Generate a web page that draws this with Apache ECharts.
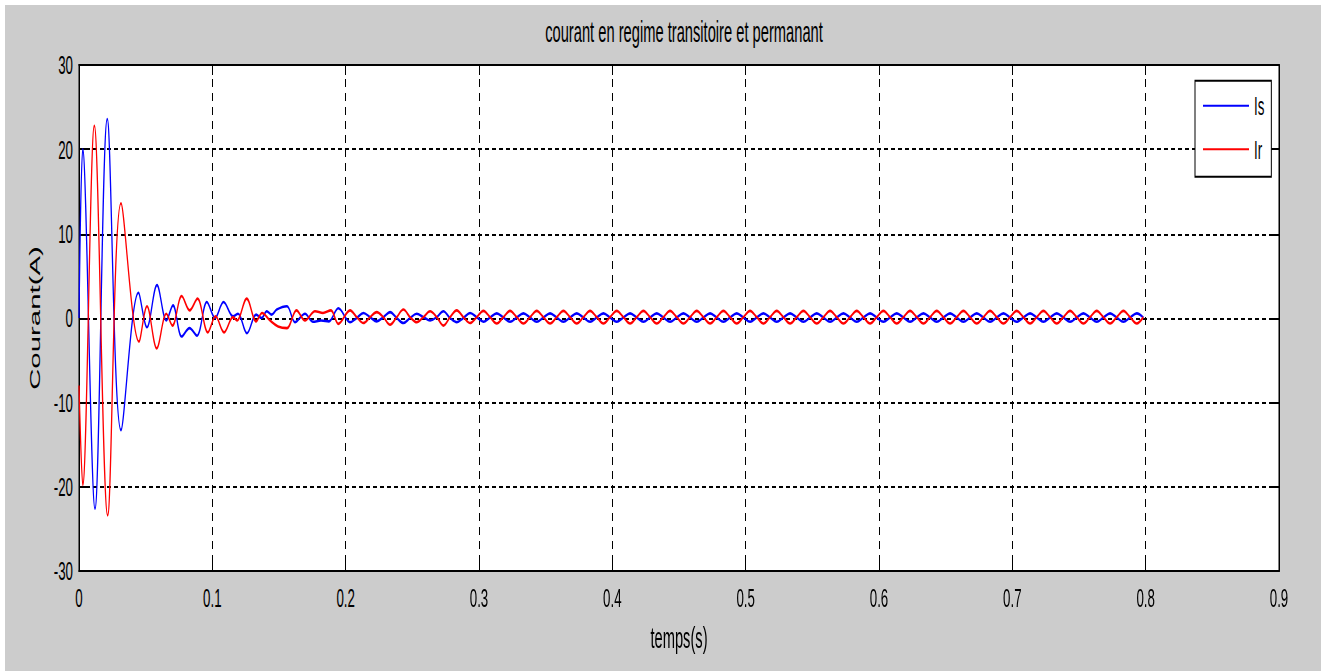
<!DOCTYPE html>
<html>
<head>
<meta charset="utf-8">
<script src="https://cdn.jsdelivr.net/npm/echarts/dist/echarts.min.js"></script>
<style>
  html, body { margin: 0; padding: 0; background: #fff; overflow: hidden; }
  #wrap { position: absolute; left: 0; top: 0; width: 1321px; transform-origin: 0 0; }
</style>
</head>
<body>
<div id="wrap"></div>
<script>
// Stator / rotor currents: transient part listed point by point (time s, current A)
const isTime = [0, 0.0028, 0.0120, 0.0212, 0.0315, 0.0446, 0.0510, 0.0585, 0.0655, 0.0705, 0.0770, 0.0829, 0.0885, 0.0959, 0.1020, 0.1084, 0.1155, 0.1193, 0.1260, 0.1328, 0.1370, 0.1408, 0.1445, 0.1483, 0.1560, 0.1620, 0.1695, 0.1755, 0.1815, 0.1875, 0.1945];
const isVal  = [0, 20.0, -22.6, 23.6, -13.3, 3.0, -1.1, 3.9, -0.3, 1.5, -2.2, -1.2, -2.1, 1.9, 0.0, 1.9, 0.2, 0.5, -1.8, 0.4, 0.0, 0.8, 0.4, 1.0, 1.4, -0.5, 0.5, -0.45, -0.3, -0.4, 1.15];
const irTime = [0, 0.0028, 0.0115, 0.0215, 0.0315, 0.0450, 0.0510, 0.0583, 0.0655, 0.0701, 0.0770, 0.0830, 0.0889, 0.0966, 0.1024, 0.1088, 0.1155, 0.1185, 0.1258, 0.1328, 0.1373, 0.1433, 0.1493, 0.1560, 0.1631, 0.1695, 0.1770, 0.1830, 0.1890, 0.1945];
const irVal  = [-8, -19.8, 22.8, -23.4, 13.6, -2.8, 1.4, -3.6, 0.5, -0.9, 2.6, 0.9, 2.3, -1.7, 0.2, -1.7, 0.1, -0.3, 2.3, -0.4, 0.6, -0.3, -1.0, -1.2, 0.9, -0.3, 0.8, 0.6, 0.9, -0.7];

// Permanent regime: one value every 5 ms from 0.2033 s
const steadyStart = 0.2033;
const steadyStep = 0.005;
const isSteady = [
  -0.5, 0.0, 0.6, 0.1, -0.4, 0.1, 0.7, 0.0, -0.6, 0.0, 0.5, 0.1, -0.3, 0.1, 0.8, 0.0, -0.5, 0.0, 0.6, 0.1,
  -0.45, 0.05, 0.55, 0.05, -0.45, 0.05, 0.55, 0.05, -0.45, 0.05, 0.55, 0.05, -0.45, 0.05, 0.55, 0.05, -0.45, 0.05, 0.55, 0.05,
  -0.45, 0.05, 0.55, 0.05, -0.45, 0.05, 0.55, 0.05, -0.45, 0.05, 0.55, 0.05, -0.45, 0.05, 0.55, 0.05, -0.45, 0.05, 0.55, 0.05,
  -0.45, 0.05, 0.55, 0.05, -0.45, 0.05, 0.55, 0.05, -0.45, 0.05, 0.55, 0.05, -0.45, 0.05, 0.55, 0.05, -0.45, 0.05, 0.55, 0.05,
  -0.45, 0.05, 0.55, 0.05, -0.45, 0.05, 0.55, 0.05, -0.45, 0.05, 0.55, 0.05, -0.45, 0.05, 0.55, 0.05, -0.45, 0.05, 0.55, 0.05,
  -0.45, 0.05, 0.55, 0.05, -0.45, 0.05, 0.55, 0.05, -0.45, 0.05, 0.55, 0.05, -0.45, 0.05, 0.55, 0.05, -0.45, 0.05, 0.55, 0.05
];
const irSteady = [
  0.9, 0.1, -0.6, 0.1, 0.7, 0.1, -0.8, 0.1, 1.0, 0.1, -0.5, 0.1, 0.8, 0.1, -0.9, 0.1, 0.9, 0.1, -0.6, 0.1,
  0.85, 0.1, -0.65, 0.1, 0.85, 0.1, -0.65, 0.1, 0.85, 0.1, -0.65, 0.1, 0.85, 0.1, -0.65, 0.1, 0.85, 0.1, -0.65, 0.1,
  0.85, 0.1, -0.65, 0.1, 0.85, 0.1, -0.65, 0.1, 0.85, 0.1, -0.65, 0.1, 0.85, 0.1, -0.65, 0.1, 0.85, 0.1, -0.65, 0.1,
  0.85, 0.1, -0.65, 0.1, 0.85, 0.1, -0.65, 0.1, 0.85, 0.1, -0.65, 0.1, 0.85, 0.1, -0.65, 0.1, 0.85, 0.1, -0.65, 0.1,
  0.85, 0.1, -0.65, 0.1, 0.85, 0.1, -0.65, 0.1, 0.85, 0.1, -0.65, 0.1, 0.85, 0.1, -0.65, 0.1, 0.85, 0.1, -0.65, 0.1,
  0.85, 0.1, -0.65, 0.1, 0.85, 0.1, -0.65, 0.1, 0.85, 0.1, -0.65, 0.1, 0.85, 0.1, -0.65, 0.1, 0.85, 0.1, -0.65, 0.1
];

const seriesNames = ['Is', 'Ir'];
const xTicks = { min: 0, max: 0.9, step: 0.1 };
const yTicks = { min: -30, max: 30, step: 10 };

function buildSeries(times, vals, steady) {
  const pts = times.map((t, i) => [t, vals[i]]);
  steady.forEach((v, i) => pts.push([+(steadyStart + i * steadyStep).toFixed(4), v]));
  return pts;
}

// The figure is laid out in a vertically compressed space and stretched back by S
const S = 2;
const W = 1321, H = 671;
const H0 = H / S;
const wrap = document.getElementById('wrap');
wrap.style.height = H0 + 'px';
wrap.style.transform = 'scaleY(' + S + ')';

const FONT = "'Liberation Sans', Arial, Helvetica, sans-serif";
const chart = echarts.init(wrap, null, { renderer: 'svg', width: W, height: H0 });

const gridTop = 65 / S, gridH = 506 / S;
const dots = [4, 3];

chart.setOption({
  animation: false,
  backgroundColor: '#ffffff',
  graphic: [{
    type: 'rect', z: -100, silent: true,
    shape: { x: 5, y: 5 / S, width: W - 5, height: (H - 5) / S },
    style: { fill: '#cccccc' }
  }],
  title: {
    text: 'courant en regime transitoire et permanant',
    left: 679, top: 3.5, textAlign: 'center',
    textStyle: { fontFamily: FONT, fontSize: 14.7, fontWeight: 'normal', color: '#000' }
  },
  legend: {
    orient: 'vertical', left: 1195, top: 80.7 / S,
    data: seriesNames.map(n => ({ name: n, icon: 'rect' })),
    itemWidth: 46, itemHeight: 1, itemGap: 7.8,
    padding: [5.5, 7, 6.7, 8],
    borderColor: '#000', borderWidth: 1, backgroundColor: '#fff', borderRadius: 0,
    textStyle: { fontFamily: FONT, fontSize: 13.3, color: '#000', lineHeight: 14 }
  },
  grid: {
    left: 79, top: gridTop, width: 1200, height: gridH,
    show: true, backgroundColor: '#fff', borderColor: '#000', borderWidth: 1
  },
  xAxis: [{
    type: 'value', min: xTicks.min, max: xTicks.max, interval: xTicks.step,
    name: 'temps(s)', nameLocation: 'middle', nameGap: 26,
    nameTextStyle: { fontFamily: FONT, fontSize: 14.7, color: '#000' },
    axisLine: { onZero: false, lineStyle: { color: '#000', width: 1 } },
    axisTick: { inside: true, length: 5, lineStyle: { color: '#000' } },
    axisLabel: { margin: 7, fontFamily: FONT, fontSize: 13.3, color: '#000',
      formatter: v => String(+v.toFixed(1)) },
    splitLine: { show: true, lineStyle: { color: '#000', type: dots, width: 1 } }
  }, {
    type: 'value', position: 'top', min: xTicks.min, max: xTicks.max, interval: xTicks.step,
    axisLine: { onZero: false, lineStyle: { color: '#000' } },
    axisTick: { inside: true, length: 5, lineStyle: { color: '#000' } },
    axisLabel: { show: false }, splitLine: { show: false }
  }],
  yAxis: [{
    type: 'value', min: yTicks.min, max: yTicks.max, interval: yTicks.step,
    name: 'Courant(A)', nameLocation: 'middle', nameGap: 34,
    nameTextStyle: { fontFamily: FONT, fontSize: 14.7, color: '#000' },
    axisLine: { onZero: false, lineStyle: { color: '#000', width: 1 } },
    axisTick: { inside: true, length: 10, lineStyle: { color: '#000' } },
    axisLabel: { margin: 6, fontFamily: FONT, fontSize: 13.3, color: '#000' },
    splitLine: { show: true, lineStyle: { color: '#000', type: dots, width: 1 } }
  }, {
    type: 'value', position: 'right', min: yTicks.min, max: yTicks.max, interval: yTicks.step,
    axisLine: { onZero: false, lineStyle: { color: '#000' } },
    axisTick: { inside: true, length: 10, lineStyle: { color: '#000' } },
    axisLabel: { show: false }, splitLine: { show: false }
  }],
  series: [{
    name: seriesNames[0], type: 'line', symbol: 'none', smooth: 0.35,
    data: buildSeries(isTime, isVal, isSteady),
    lineStyle: { color: '#0000ff', width: 1.3 }, itemStyle: { color: '#0000ff' }, z: 3
  }, {
    name: seriesNames[1], type: 'line', symbol: 'none', smooth: 0.35,
    data: buildSeries(irTime, irVal, irSteady),
    lineStyle: { color: '#ff0000', width: 1.3 }, itemStyle: { color: '#ff0000' }, z: 4
  }]
});
</script>
</body>
</html>
